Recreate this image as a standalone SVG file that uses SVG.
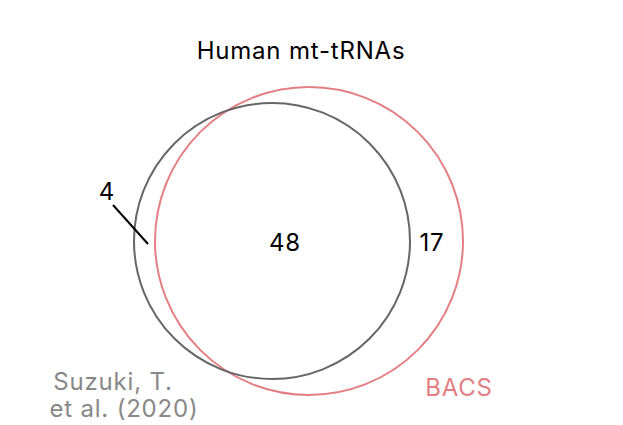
<svg xmlns="http://www.w3.org/2000/svg" width="623" height="425" viewBox="0 0 623 425">
<style>
text{font-family:Inter,Roboto,"Liberation Sans",sans-serif;font-size:24px;letter-spacing:0.8px;text-anchor:middle;dominant-baseline:central}
.c{fill:none;stroke-width:2}
</style>
<rect width="623" height="425" fill="#fff"/>
<g id="bacs"><circle class="c" cx="309" cy="241" r="154" stroke="#e37f83"/></g>
<g id="suzuki"><circle class="c" cx="272" cy="241" r="138" stroke="#666"/></g>
<g id="connectors"><line x1="113" y1="205" x2="148" y2="244" stroke="#000" stroke-width="2"/></g>
<g id="labels">
<text x="301" y="50" fill="#000">Human mt-tRNAs</text>
<text x="285" y="242" fill="#000">48</text>
<text x="432" y="242" fill="#000">17</text>
<text x="107" y="191" fill="#000">4</text>
<text x="113" y="381" fill="#888">Suzuki, T.</text>
<text x="124" y="408" fill="#888">et al. (2020)</text>
<text x="459" y="387" fill="#e37f83">BACS</text>
</g>
</svg>
